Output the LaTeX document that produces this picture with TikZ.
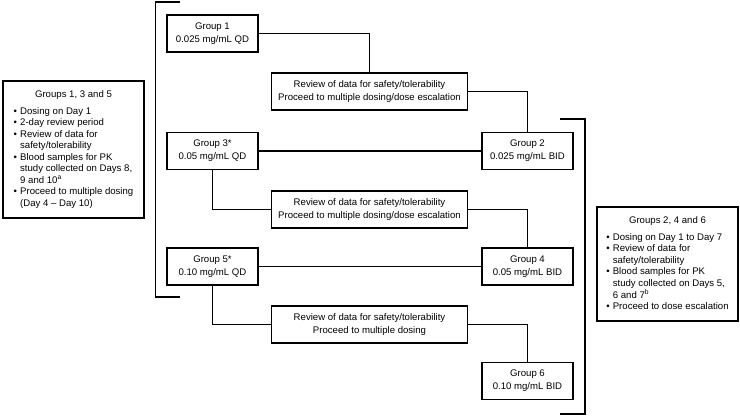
\documentclass[tikz,border=0pt]{standalone}
\usepackage{fontspec}
\setmainfont{Liberation Sans}
\newcommand\bulit{\makebox[6.5pt][l]{\textbullet}}
\newcommand\contin{\hspace*{6.5pt}}
\begin{document}
\begin{tikzpicture}[x=1pt,y=-1pt,
  box/.style={draw, line width=1.3pt, minimum width=91pt, minimum height=37pt, align=center, inner sep=0pt, font=\fontsize{9.6}{13}\selectfont},
  revbox/.style={box, minimum width=196pt},
  infobox/.style={draw, line width=1.3pt, inner sep=0pt, font=\fontsize{9.6}{11.5}\selectfont},
  link/.style={line width=1.3pt}]
\useasboundingbox (0,0) rectangle (740,416);

\node[box] (g1) at (212.5,33.5) {Group 1\\0.025 mg/mL QD};
\node[revbox] (r1) at (369.5,91.5) {Review of data for safety/tolerability\\Proceed to multiple dosing/dose escalation};
\node[box] (g2) at (527.5,151) {Group 2\\0.025 mg/mL BID};
\node[box] (g3) at (212.5,151) {Group 3*\\0.05 mg/mL QD};
\node[revbox] (r2) at (369.5,209.5) {Review of data for safety/tolerability\\Proceed to multiple dosing/dose escalation};
\node[box] (g4) at (527.5,266.5) {Group 4\\0.05 mg/mL BID};
\node[box] (g5) at (212.5,266.5) {Group 5*\\0.10 mg/mL QD};
\node[revbox] (r3) at (369.5,324.5) {Review of data for safety/tolerability\\Proceed to multiple dosing};
\node[box] (g6) at (527.5,381) {Group 6\\0.10 mg/mL BID};

\draw[link] (g1.east) -| (r1.north);
\draw[link] (r1.east) -| (g2.north);
\draw[link] (g3.east) -- (g2.west);
\draw[link] (g3.south) |- (r2.west);
\draw[link] (r2.east) -| (g4.north);
\draw[link] (g5.east) -- (g4.west);
\draw[link] (g5.south) |- (r3.west);
\draw[link] (r3.east) -| (g6.north);

\coordinate (lbt) at (180,2);
\coordinate (lbb) at (180,297);
\draw[link] (lbt) -- ++(-24.5,0) |- (lbb);
\coordinate (rbt) at (560,119);
\coordinate (rbb) at (560,414);
\draw[link] (rbt) -- ++(25,0) |- (rbb);

\node[infobox, minimum width=141pt, minimum height=137pt] (lbox) at (73.5,149.5) {%
\begin{tabular}{@{}l@{}}
\multicolumn{1}{@{}c@{}}{Groups 1, 3 and 5}\\[5.5pt]
\bulit Dosing on Day 1\\
\bulit 2-day review period\\
\bulit Review of data for\\
\contin safety/tolerability\\
\bulit Blood samples for PK\\
\contin study collected on Days 8,\\
\contin 9 and 10\textsuperscript{a}\\
\bulit Proceed to multiple dosing\\
\contin (Day 4 -- Day 10)
\end{tabular}};

\node[infobox, minimum width=141pt, minimum height=114pt] (rbox) at (667.5,264) {%
\begin{tabular}{@{}l@{}}
\multicolumn{1}{@{}c@{}}{Groups 2, 4 and 6}\\[5.5pt]
\bulit Dosing on Day 1 to Day 7\\
\bulit Review of data for\\
\contin safety/tolerability\\
\bulit Blood samples for PK\\
\contin study collected on Days 5,\\
\contin 6 and 7\textsuperscript{b}\\
\bulit Proceed to dose escalation
\end{tabular}};
\end{tikzpicture}
\end{document}
